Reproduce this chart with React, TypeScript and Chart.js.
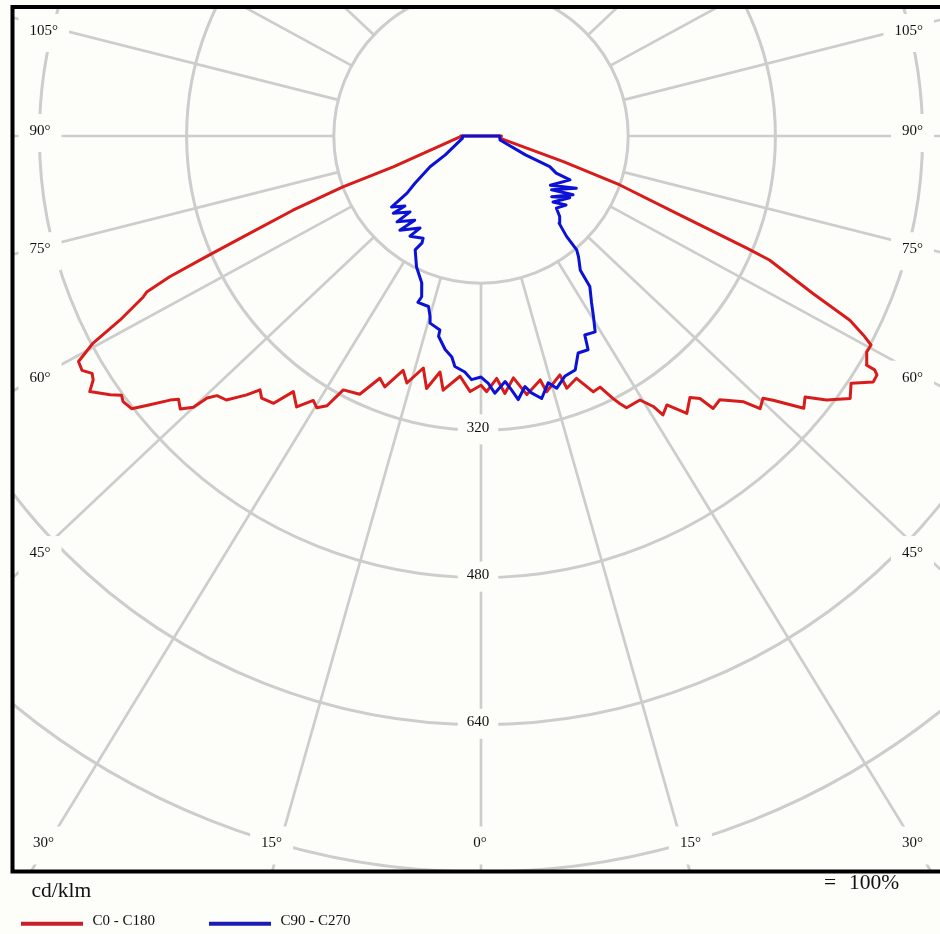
import React, { useEffect, useRef } from 'react';
import { Chart, registerables } from 'chart.js';

Chart.register(...registerables);

// ---------------- data ----------------
const seriesNames = ['C0 - C180', 'C90 - C270'];
const unitText = 'cd/klm';
const scaleText = '100%';

// polar grid (cd/klm) and angle ticks (degrees)
const circleValues = [160, 320, 480, 640, 800, 960, 1120];
const circleLabelValues = [320, 480, 640];
const angleLineDegrees = [0, 15, 30, 45, 60, 75, 90, 105, 120, 135, 150, 165];
const sideLabelDegrees = [105, 90, 75, 60, 45];
const bottomLabelDegrees = [30, 15, 0];

// C180 half (left), ordered from nadir outwards
const c180Angles = [0, 2.3, 4.7, 8.0, 9.3, 11.5, 13.2, 15.8, 17.4, 19.9, 21.5, 23.9, 27.1, 28.3, 29.7, 30.9, 32.7, 34.7, 36.2, 38.3, 39.4, 40.5, 42.3, 43.8, 44.6, 45.0, 46.1, 47.3, 48.0, 49.5, 50.4, 51.8, 52.6, 53.5, 55.3, 56.3, 57.1, 58.1, 59.3, 60.5, 61.6, 63.2, 63.7, 64.4, 65.0, 65.8, 67.3, 68.7, 69.6, 88.0, 90];
const c180Values = [271, 278, 262, 279, 260, 280, 259, 279, 267, 290, 283, 307, 310, 333, 340, 335, 350, 338, 360, 363, 357, 370, 388, 391, 400, 417, 428, 422, 429, 451, 465, 467, 464, 473, 488, 478, 475, 482, 480, 457, 421, 388, 382, 354, 314, 267, 209, 152, 96, 21, 21];

// C0 half (right)
const c0Angles = [0, 1.2, 3.5, 5.0, 7.2, 9.5, 12.9, 13.6, 17.3, 17.8, 20.4, 22.5, 24.1, 25.4, 26.1, 26.8, 29.6, 31.0, 31.6, 33.1, 35.0, 37.0, 38.2, 38.8, 40.5, 43.0, 44.0, 45.4, 46.2, 48.2, 49.5, 51.0, 53.0, 54.7, 56.4, 57.4, 57.8, 57.8, 59.3, 60.4, 61.1, 62.1, 63.3, 65.5, 65.9, 67.2, 69.5, 71.7, 82.7, 90];
const c0Values = [271, 278, 264, 281, 265, 285, 272, 286, 272, 288, 281, 301, 299, 316, 324, 331, 330, 343, 356, 349, 368, 356, 363, 380, 377, 395, 412, 406, 415, 444, 437, 456, 474, 465, 483, 482, 477, 467, 460, 460, 448, 428, 381, 325, 298, 221, 152, 89, 20, 21];

// C270 half (left)
const c270Angles = [0, 2.1, 3.7, 6.1, 7.1, 9.0, 11.3, 11.3, 14.4, 14.9, 16.2, 19.7, 19.2, 20.8, 24.9, 28.6, 27.5, 28.1, 33.8, 32.0, 39.1, 36.6, 42.7, 41.4, 47.0, 45.7, 49.9, 50.7, 52.8, 57.4, 60.7, 83.0, 90];
const c270Values = [262, 265, 257, 252, 242, 235, 222, 215, 210, 203, 193, 192, 185, 171, 157, 141, 131, 126, 131, 118, 132, 114, 127, 110, 123, 109, 120, 98, 85, 62, 42, 19, 19];

// C90 half (right)
const c90Angles = [0, 1.6, 2.9, 5.3, 6.5, 7.6, 9.4, 10.5, 12.3, 14.4, 15.8, 18.2, 20.8, 22.9, 25.3, 26.2, 28.8, 30.4, 32.0, 34.3, 34.9, 37.3, 38.4, 38.8, 40.2, 42.7, 44.6, 49.3, 45.8, 53.6, 47.7, 55.9, 51.1, 59.9, 53.0, 62.4, 62.4, 64.7, 65.8, 77.6, 90];
const c90Values = [262, 269, 280, 268, 278, 289, 276, 284, 292, 277, 285, 275, 272, 256, 257, 241, 243, 228, 214, 198, 178, 165, 158, 140, 124, 119, 110, 115, 103, 113, 98, 114, 93, 113, 89, 103, 87, 78, 50, 20, 19];

// ---------------- layout / style ----------------
const W = 940;
const H = 934;
const AREA = { left: 14, top: 9, right: 940, bottom: 870 };
const CENTER_X = 481;
const CENTER_Y = 136;
const PX_PER_CD = 0.92;
const KX = 1.06; // horizontal stretch of angular directions seen in the reference

const BG = '#fdfdf9';
const GRID = '#cdcdcd';
const RED = '#d81c1c';
const BLUE = '#0b12d6';
const LEGEND_RED = '#c8202a';
const LEGEND_BLUE = '#1c1cb4';
const FONT = '"Liberation Serif", "Times New Roman", serif';

const toPoint = (deg: number, val: number, side: number) => {
  const t = (deg * Math.PI) / 180;
  return { x: side * KX * val * Math.sin(t), y: -val * Math.cos(t) };
};

const buildPath = (la: number[], lv: number[], ra: number[], rv: number[]) => {
  const left = la.map((a, i) => toPoint(a, lv[i], -1)).reverse();
  const right = ra.map((a, i) => toPoint(a, rv[i], 1));
  return [{ x: 0, y: 0 }, ...left, ...right, { x: 0, y: 0 }];
};

const polarPlugin = {
  id: 'polarPlugin',
  beforeDraw(chart: any) {
    const { ctx, width, height } = chart;
    ctx.save();
    ctx.fillStyle = BG;
    ctx.fillRect(0, 0, width, height);
    ctx.restore();
  },
  beforeDatasetsDraw(chart: any) {
    const { ctx, chartArea: a, scales } = chart;
    const xs = scales.x;
    const ys = scales.y;
    const cx = xs.getPixelForValue(0);
    const cy = ys.getPixelForValue(0);
    const unit = xs.getPixelForValue(1) - cx;
    const pix = (x: number, y: number) => [xs.getPixelForValue(x), ys.getPixelForValue(y)];

    ctx.save();
    ctx.beginPath();
    ctx.rect(a.left, a.top, a.right - a.left, a.bottom - a.top);
    ctx.clip();

    // circles
    ctx.strokeStyle = GRID;
    ctx.lineWidth = 3;
    for (const r of circleValues) {
      ctx.beginPath();
      ctx.arc(cx, cy, r * unit, 0, Math.PI * 2);
      ctx.stroke();
    }
    // radial lines
    ctx.lineWidth = 2.7;
    const inner = circleValues[0];
    const dirOf = (deg: number, side: number) => {
      const t = (deg * Math.PI) / 180;
      const dx = side * KX * Math.sin(t);
      const dy = -Math.cos(t);
      const n = Math.hypot(dx, dy);
      return [dx / n, dy / n];
    };
    for (const deg of angleLineDegrees) {
      const sides = deg === 0 ? [1] : [-1, 1];
      for (const s of sides) {
        const [dx, dy] = dirOf(deg, s);
        const [x0, y0] = pix(dx * inner, dy * inner);
        const [x1, y1] = pix(dx * 2000, dy * 2000);
        ctx.beginPath();
        ctx.moveTo(x0, y0);
        ctx.lineTo(x1, y1);
        ctx.stroke();
      }
    }

    // labels with background patches
    const fs = 15;
    ctx.font = `${fs}px ${FONT}`;
    ctx.textAlign = 'left';
    ctx.textBaseline = 'alphabetic';
    const drawLabel = (text: string, centerX: number, centerY: number, padX: number, boxH: number, boxDy: number) => {
      const tw = ctx.measureText(text).width;
      ctx.fillStyle = BG;
      ctx.fillRect(centerX - tw / 2 - padX, centerY + boxDy - boxH / 2, tw + padX * 2, boxH);
      ctx.fillStyle = '#111';
      ctx.fillText(text, centerX - tw / 2, centerY + fs * 0.34);
    };

    // circle value labels along the 0° axis
    for (const v of circleLabelValues) {
      const py = cy + v * unit;
      drawLabel(String(v), cx - 3, py - 3.5, 9, 30, 2.5);
    }

    // side angle labels
    const deg = '\u00B0';
    const leftEdge = a.left + 15.5;
    const rightEdge = a.right - 17;
    for (const d of sideLabelDegrees) {
      for (const s of [-1, 1]) {
        const [dx, dy] = dirOf(d, s);
        const text = `${d}${deg}`;
        const tw = ctx.measureText(text).width;
        const centerX = s < 0 ? leftEdge + tw / 2 : rightEdge - tw / 2;
        const reach = 440;
        const t = reach / Math.abs(dx * unit);
        let yy = cy - t * dy * unit + (d < 90 ? 1 : -6);
        yy = Math.max(a.top + 21, yy);
        drawLabel(text, centerX, yy, 11, 38, 3);
      }
    }
    // bottom angle labels
    const by = a.bottom - 28.5;
    for (const d of bottomLabelDegrees) {
      const sides = d === 0 ? [1] : [-1, 1];
      for (const s of sides) {
        const [dx, dy] = dirOf(d, s);
        const text = `${d}${deg}`;
        const tw = ctx.measureText(text).width;
        const t = (by - cy) / (-dy * unit);
        let xx = cx + t * dx * unit + (d === 0 ? -1 : s * 9);
        xx = Math.max(a.left + 19 + tw / 2, Math.min(rightEdge - tw / 2, xx));
        drawLabel(text, xx, by, 11, 38, 4);
      }
    }
    ctx.restore();
  },
  afterDraw(chart: any) {
    const { ctx, chartArea: a } = chart;
    ctx.save();
    // frame
    ctx.strokeStyle = '#000';
    ctx.lineWidth = 4;
    ctx.strokeRect(a.left - 1.5, a.top - 2, a.right - a.left + 12, a.bottom - a.top + 3.5);

    // unit and scale texts
    ctx.fillStyle = '#111';
    ctx.textAlign = 'left';
    ctx.textBaseline = 'alphabetic';
    ctx.font = `21.5px ${FONT}`;
    ctx.fillText(unitText, a.left + 17.5, a.bottom + 26.5);
    ctx.fillText('=', 824, a.bottom + 19);
    ctx.fillText(scaleText, 849, a.bottom + 19);

    // legend
    const items = [
      { name: seriesNames[0], color: LEGEND_RED, x: 21 },
      { name: seriesNames[1], color: LEGEND_BLUE, x: 209 },
    ];
    ctx.font = `15px ${FONT}`;
    for (const it of items) {
      ctx.strokeStyle = it.color;
      ctx.lineWidth = 4;
      ctx.beginPath();
      ctx.moveTo(it.x, a.bottom + 53.7);
      ctx.lineTo(it.x + 62, a.bottom + 53.7);
      ctx.stroke();
      ctx.fillStyle = '#111';
      ctx.fillText(it.name, it.x + 71.5, a.bottom + 55);
    }
    ctx.restore();
  },
};

export default function App() {
  const canvasRef = useRef<HTMLCanvasElement | null>(null);

  useEffect(() => {
    const canvas = canvasRef.current;
    if (!canvas) return;
    const redPath = buildPath(c180Angles, c180Values, c0Angles, c0Values);
    const bluePath = buildPath(c270Angles, c270Values, c90Angles, c90Values);

    const xMin = -(CENTER_X - AREA.left) / PX_PER_CD;
    const xMax = (AREA.right - CENTER_X) / PX_PER_CD;
    const yMax = (CENTER_Y - AREA.top) / PX_PER_CD;
    const yMin = -(AREA.bottom - CENTER_Y) / PX_PER_CD;

    const chart = new Chart(canvas, {
      type: 'scatter',
      data: {
        datasets: [
          {
            label: seriesNames[1],
            data: bluePath,
            showLine: true,
            borderColor: BLUE,
            backgroundColor: BLUE,
            borderWidth: 3,
            borderJoinStyle: 'round',
            pointRadius: 0,
            pointHoverRadius: 0,
            tension: 0,
            fill: false,
          },
          {
            label: seriesNames[0],
            data: redPath,
            showLine: true,
            borderColor: RED,
            backgroundColor: RED,
            borderWidth: 3,
            borderJoinStyle: 'round',
            pointRadius: 0,
            pointHoverRadius: 0,
            tension: 0,
            fill: false,
          },
        ],
      },
      options: {
        animation: false,
        responsive: false,
        events: [],
        layout: {
          padding: { left: AREA.left, top: AREA.top, right: W - AREA.right, bottom: H - AREA.bottom },
        },
        plugins: {
          legend: { display: false },
          tooltip: { enabled: false },
        },
        scales: {
          x: { type: 'linear', display: false, min: xMin, max: xMax, bounds: 'data', grace: 0 },
          y: { type: 'linear', display: false, min: yMin, max: yMax, bounds: 'data', grace: 0 },
        },
      },
      plugins: [polarPlugin],
    } as any);

    return () => chart.destroy();
  }, []);

  return (
    <div style={{ position: 'fixed', left: 0, top: 0, width: W, height: H, background: BG }}>
      <canvas ref={canvasRef} width={W} height={H} style={{ display: 'block', width: W, height: H }} />
    </div>
  );
}
